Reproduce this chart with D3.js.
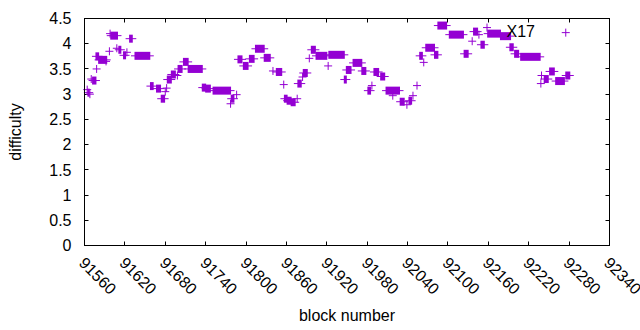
<!DOCTYPE html>
<html>
<head>
<meta charset="utf-8">
<script src="https://cdn.jsdelivr.net/npm/d3@7"></script>
<style>
body { margin: 0; background: #fff; }
text { font-family: "Liberation Sans", Arial, sans-serif; font-size: 16px; fill: #000; }
</style>
</head>
<body>
<div id="plot"></div>
<script>
// difficulty per block, read off the picture as runs of equal value
// (a single block has start == end)
const blockStart = [91564, 91565, 91568, 91570, 91572, 91578, 91577, 91581, 91592, 91597,
	91598, 91599, 91608, 91611, 91618, 91623, 91627, 91635, 91658, 91667,
	91674, 91680, 91682, 91683, 91689, 91698, 91699, 91707, 91714, 91735,
	91740, 91751, 91777, 91778, 91786, 91788, 91796, 91805, 91814, 91827,
	91840, 91845, 91856, 91857, 91861, 91867, 91876, 91877, 91884, 91885,
	91894, 91897, 91904, 91922, 91923, 91946, 91949, 91959, 91972, 91981,
	91987, 91990, 92000, 92008, 92018, 92029, 92039, 92042, 92048, 92054,
	92058, 92064, 92067, 92080, 92085, 92102, 92124, 92136, 92138, 92146,
	92149, 92158, 92159, 92178, 92192, 92199, 92208, 92238, 92239, 92243,
	92251, 92260, 92275, 92275];
const blockEnd = [91564, 91567, 91568, 91570, 91577, 91578, 91581, 91593, 91592, 91597,
	91598, 91609, 91608, 91614, 91621, 91623, 91631, 91657, 91662, 91673,
	91679, 91680, 91682, 91689, 91695, 91698, 91705, 91714, 91735, 91740,
	91747, 91777, 91777, 91782, 91786, 91794, 91803, 91812, 91827, 91836,
	91840, 91853, 91856, 91861, 91867, 91873, 91876, 91882, 91884, 91891,
	91894, 91903, 91920, 91922, 91946, 91949, 91956, 91972, 91978, 91985,
	91987, 91997, 92006, 92028, 92018, 92035, 92039, 92046, 92048, 92054,
	92062, 92064, 92080, 92085, 92098, 92123, 92130, 92136, 92144, 92146,
	92154, 92158, 92178, 92193, 92197, 92205, 92237, 92238, 92239, 92249,
	92258, 92273, 92281, 92275];
const difficulty = [3.09, 3.03, 3.00, 3.30, 3.27, 3.50, 3.75, 3.68, 3.65, 3.85,
	4.20, 4.16, 3.91, 3.88, 3.77, 3.83, 4.10, 3.76, 3.16, 3.11,
	2.91, 3.05, 3.12, 3.29, 3.39, 3.37, 3.50, 3.64, 3.50, 3.13,
	3.11, 3.07, 2.81, 2.91, 2.99, 3.69, 3.56, 3.70, 3.90, 3.72,
	3.46, 3.44, 3.19, 2.91, 2.87, 2.84, 2.91, 3.21, 3.34, 3.42,
	3.71, 3.88, 3.76, 3.56, 3.78, 3.29, 3.48, 3.62, 3.46, 3.07,
	3.17, 3.44, 3.35, 3.07, 2.97, 2.85, 2.79, 2.87, 2.97, 3.17,
	3.76, 3.63, 3.92, 3.78, 4.36, 4.18, 3.80, 4.05, 4.24, 4.18,
	3.98, 4.32, 4.20, 4.15, 3.93, 3.80, 3.74, 3.21, 3.37, 3.30,
	3.45, 3.26, 3.37, 4.22];

const xTickValues = [91560, 91620, 91680, 91740, 91800, 91860, 91920, 91980,
	92040, 92100, 92160, 92220, 92280, 92340];
const yTickValues = [0, 0.5, 1, 1.5, 2, 2.5, 3, 3.5, 4, 4.5];
const labelText = "X17";
const labelBlock = 92187;
const labelValue = 4.24;

const FRAME_WIDTH = 640;
const FRAME_HEIGHT = 330;
const LEFT = 84.5, RIGHT = 609.5, TOP = 18.5, BOTTOM = 245.5;
const TICK = 4;
const ARM = 4;          // half size of the "+" marker
const COLOR = "#9400d3";

const svg = d3.select("#plot")
	.append("svg")
		.attr("width", FRAME_WIDTH)
		.attr("height", FRAME_HEIGHT);

const x = d3.scaleLinear().domain([91560, 92340]).range([LEFT, RIGHT]);
const y = d3.scaleLinear().domain([0, 4.5]).range([BOTTOM, TOP]);

// ticks on all four sides, pointing inwards
const ticks = svg.append("g").attr("stroke", "#000").attr("stroke-width", 1);
xTickValues.forEach(v => {
	const px = Math.round(x(v) - 0.5) + 0.5;
	ticks.append("line").attr("x1", px).attr("x2", px).attr("y1", BOTTOM).attr("y2", BOTTOM - TICK);
	ticks.append("line").attr("x1", px).attr("x2", px).attr("y1", TOP).attr("y2", TOP + TICK);
});
yTickValues.forEach(v => {
	const py = Math.round(y(v) - 0.5) + 0.5;
	ticks.append("line").attr("x1", LEFT).attr("x2", LEFT + TICK).attr("y1", py).attr("y2", py);
	ticks.append("line").attr("x1", RIGHT).attr("x2", RIGHT - TICK).attr("y1", py).attr("y2", py);
});

// y tick labels
svg.append("g")
	.selectAll("text")
	.data(yTickValues)
	.join("text")
		.attr("x", LEFT - 13)
		.attr("y", d => y(d))
		.attr("dy", "0.36em")
		.attr("text-anchor", "end")
		.text(d => String(d));

// x tick labels, rotated by 45 degrees
svg.append("g")
	.selectAll("text")
	.data(xTickValues)
	.join("text")
		.attr("transform", d => "translate(" + (x(d) - 6.5) + "," + 264 + ") rotate(45)")
		.attr("text-anchor", "start")
		.text(d => String(d));

// points: runs of equal difficulty become a filled bar of "+" marks
const marks = svg.append("g");
blockStart.forEach((b, i) => {
	const x0 = x(b), x1 = x(blockEnd[i]), yy = y(difficulty[i]);
	marks.append("rect")
		.attr("x", x0 - 0.5)
		.attr("y", yy - ARM)
		.attr("width", x1 - x0 + 1)
		.attr("height", 2 * ARM)
		.attr("fill", COLOR);
	marks.append("line")
		.attr("x1", x0 - ARM)
		.attr("x2", x1 + ARM)
		.attr("y1", yy)
		.attr("y2", yy)
		.attr("stroke", COLOR)
		.attr("stroke-width", 1);
});

// border
svg.append("rect")
	.attr("x", LEFT)
	.attr("y", TOP)
	.attr("width", RIGHT - LEFT)
	.attr("height", BOTTOM - TOP)
	.attr("fill", "none")
	.attr("stroke", "#000")
	.attr("stroke-width", 1);

// label
svg.append("text")
	.attr("x", x(labelBlock))
	.attr("y", y(labelValue))
	.attr("dy", "0.36em")
	.text(labelText);

// axis titles
svg.append("text")
	.attr("transform", "translate(21," + ((TOP + BOTTOM) / 2) + ") rotate(-90)")
	.attr("text-anchor", "middle")
	.text("difficulty");

svg.append("text")
	.attr("x", (LEFT + RIGHT) / 2)
	.attr("y", 321)
	.attr("text-anchor", "middle")
	.text("block number");
</script>
</body>
</html>
